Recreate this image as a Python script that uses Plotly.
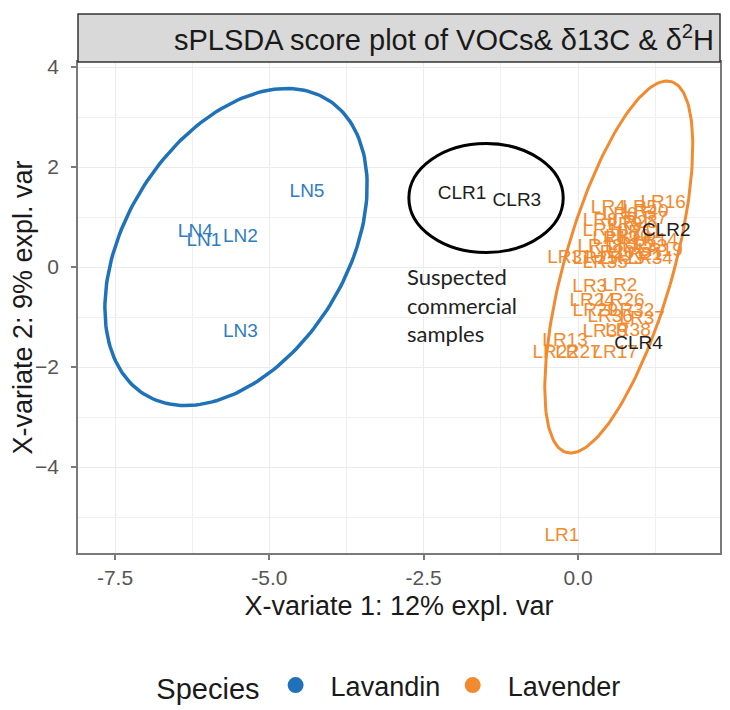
import numpy as np
import plotly.graph_objects as go

# ---------------- data ----------------
lavandin_names = ["LN1", "LN2", "LN3", "LN4", "LN5"]
lavandin_x = [-6.06, -5.47, -5.47, -6.20, -4.39]
lavandin_y = [0.52, 0.59, -1.31, 0.69, 1.49]

lavender_names = ["LR%d" % i for i in range(1, 41)]
lavender_x = [-0.26, 0.68, 0.19, 0.49, 1.00, 0.68, 1.17, 0.36, 0.76, 0.44,
              1.00, 0.60, -0.21, 1.25, 0.84, 1.38, 0.60, 0.36, 1.33, 0.55,
              1.00, -0.37, 0.71, 0.23, 0.28, 0.71, 0.00, 0.92, 0.28, 0.81,
              -0.13, 0.87, 1.08, 1.17, 0.44, 0.52, 1.04, 0.81, 0.44, 1.10]
lavender_y = [-5.38, -0.38, -0.40, 1.18, 1.18, 1.04, 0.96, 0.92, 0.84, 0.72,
              0.68, 0.56, -1.48, 0.52, 0.44, 1.28, -1.72, 0.40, 0.32, 0.28,
              0.24, -1.72, 0.16, -0.68, 0.16, -0.68, -1.72, 0.88, -0.88, 0.60,
              0.18, -0.88, 0.40, 0.16, 0.08, -1.00, -1.04, -1.28, -1.30, 1.10]

commercial_names = ["CLR1", "CLR2", "CLR3", "CLR4"]
commercial_x = [-1.88, 1.43, -0.99, 0.98]
commercial_y = [1.45, 0.72, 1.32, -1.55]

# confidence ellipses: centre, offset of the top-most point, half horizontal chord
lavandin_ell_center = (-5.54, 0.40)
lavandin_ell_top = (0.82, 3.17)
lavandin_ell_halfchord = 1.96
lavender_ell_center = (0.66, 0.00)
lavender_ell_top = (0.78, 3.72)
lavender_ell_halfchord = 0.91

# hand-drawn highlight around the suspected commercial samples
highlight_x = (-2.74, -0.24)
highlight_y = (0.29, 2.47)

species = ["Lavandin", "Lavender"]
x_ticks = [-7.5, -5.0, -2.5, 0.0]
y_ticks = [-4, -2, 0, 2, 4]

BLUE = "#1f72b8"
BLUE_TXT = "#2f7dc0"
ORANGE = "#f28a30"
DARK = "#1e1e1e"
FONT = "Liberation Sans, Arial, sans-serif"
NB = "\u00a0"


def ellipse(center, top, halfchord, n=200):
    t = np.linspace(0, 2 * np.pi, n)
    x = center[0] + halfchord * np.cos(t) + top[0] * np.sin(t)
    y = center[1] + top[1] * np.sin(t)
    return x, y


fig = go.Figure()

ex, ey = ellipse(lavandin_ell_center, lavandin_ell_top, lavandin_ell_halfchord)
fig.add_trace(go.Scatter(x=ex, y=ey, mode="lines", line=dict(color=BLUE, width=3.5),
                         showlegend=False, hoverinfo="skip"))
ex, ey = ellipse(lavender_ell_center, lavender_ell_top, lavender_ell_halfchord)
fig.add_trace(go.Scatter(x=ex, y=ey, mode="lines", line=dict(color=ORANGE, width=3),
                         showlegend=False, hoverinfo="skip"))

fig.add_trace(go.Scatter(x=lavandin_x, y=lavandin_y, text=lavandin_names, mode="text",
                         textfont=dict(color=BLUE_TXT, size=19, family=FONT),
                         showlegend=False))
fig.add_trace(go.Scatter(x=lavender_x, y=lavender_y, text=lavender_names, mode="text",
                         textfont=dict(color=ORANGE, size=19, family=FONT),
                         showlegend=False))
fig.add_trace(go.Scatter(x=commercial_x, y=commercial_y, text=commercial_names, mode="text",
                         textfont=dict(color=DARK, size=19, family=FONT),
                         showlegend=False))

for name, col in zip(species, [BLUE, ORANGE]):
    fig.add_trace(go.Scatter(x=[None], y=[None], mode="markers", name=NB * 2 + name + NB,
                             marker=dict(color=col, size=22)))

fig.add_shape(type="circle", xref="x", yref="y",
              x0=highlight_x[0], x1=highlight_x[1], y0=highlight_y[0], y1=highlight_y[1],
              line=dict(color="black", width=3))

# facet-like strip above the panel
fig.add_shape(type="rect", xref="paper", yref="paper", x0=0, x1=1,
              ysizemode="pixel", yanchor=1, y0=0, y1=48,
              fillcolor="#d9d9d9", line=dict(color="#333333", width=1.5))

fig.add_annotation(xref="paper", yref="paper", x=1, y=1, xanchor="right", yanchor="middle",
                   xshift=-4, yshift=24, showarrow=False,
                   text="sPLSDA score plot of VOCs& δ13C & δ<sup>2</sup>H",
                   font=dict(size=29, color="#1a1a1a", family=FONT))

fig.add_annotation(xref="x", yref="y", x=-2.80, y=0.12, xanchor="left", yanchor="top",
                   align="left", showarrow=False,
                   text="Suspected<br>commercial<br>samples",
                   font=dict(size=22, color="#222222", family="Lato, Open Sans, sans-serif"))

axis_common = dict(showline=True, linecolor="#7a7a7a", linewidth=1.5, mirror=True,
                   ticks="outside", ticklen=5, tickcolor="#7a7a7a", tickwidth=1.5,
                   showgrid=True, gridcolor="#ebebeb", gridwidth=1.2, zeroline=False,
                   tickfont=dict(size=21, color="#555555", family=FONT),
                   title_font=dict(size=27, color="#1a1a1a", family=FONT))

fig.update_xaxes(range=[-8.1, 2.3], tickvals=x_ticks, ticktext=["%.1f" % v for v in x_ticks],
                 minor=dict(tickvals=[-8.75, -6.25, -3.75, -1.25, 1.25], showgrid=True,
                            gridcolor="#f0f0f0", gridwidth=0.8, ticks=""),
                 ticklabelstandoff=0,
                 title_text="X-variate 1: 12% expl. var", title_standoff=8, **axis_common)
fig.update_yaxes(range=[-5.72, 4.10], tickvals=y_ticks,
                 minor=dict(tickvals=[-5, -3, -1, 1, 3], showgrid=True,
                            gridcolor="#f0f0f0", gridwidth=0.8, ticks=""),
                 ticklabelstandoff=8,
                 title_text="X-variate 2: 9% expl. var", title_standoff=0, **axis_common)

# the page adds an 8px body margin, so the figure is 8px smaller and shifted
fig.update_layout(
    width=722, height=702,
    margin=dict(l=69, r=8, t=54, b=157),
    paper_bgcolor="white", plot_bgcolor="white",
    font=dict(family=FONT),
    showlegend=True,
    legend=dict(orientation="h", x=0.492, xanchor="center",
                yref="container", y=0.0, yanchor="bottom",
                title=dict(text="Species" + NB, side="left", font=dict(size=29, color="#1a1a1a")),
                font=dict(size=27, color="#1a1a1a", family=FONT),
                itemsizing="trace"),
)

fig.write_html("out.html")
